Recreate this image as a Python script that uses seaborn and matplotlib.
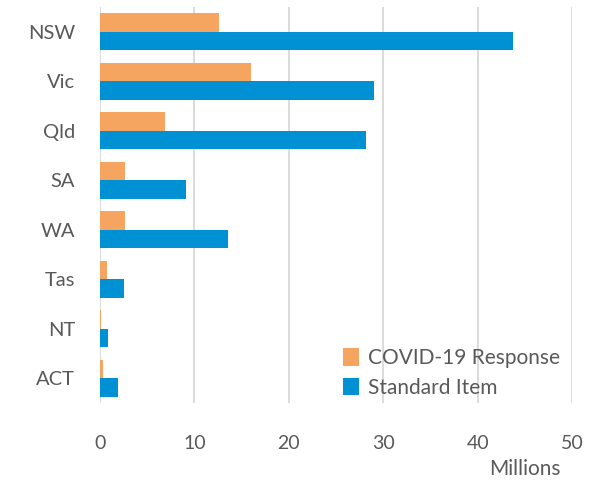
import pandas as pd
import matplotlib
matplotlib.use("Agg")
import matplotlib.pyplot as plt
import seaborn as sns

states = ["NSW", "Vic", "Qld", "SA", "WA", "Tas", "NT", "ACT"]
covid = [12.6, 16.0, 6.9, 2.6, 2.6, 0.7, 0.1, 0.35]
standard = [43.8, 29.0, 28.2, 9.1, 13.6, 2.5, 0.9, 1.95]
series = ["COVID-19 Response", "Standard Item"]

df = pd.DataFrame({
    "state": states * 2,
    "value": covid + standard,
    "series": [series[0]] * len(states) + [series[1]] * len(states),
})

sns.set_theme(style="white")
plt.rcParams["font.family"] = ["Lato", "DejaVu Sans"]
grey = "#595959"

fig = plt.figure(figsize=(6, 4.82), dpi=100)
ax = fig.add_axes([100 / 600, 1 - 403 / 482, 472 / 600, 396 / 482])

sns.barplot(data=df, y="state", x="value", hue="series", hue_order=series,
            order=states, palette=["#F5A55F", "#0091D5"], width=0.75,
            orient="h", ax=ax, saturation=1, linewidth=0, legend=True)

ax.set_xlim(0, 50)
ax.set_xticks(range(0, 51, 10))
ax.grid(axis="x", color="#D9D9D9", linewidth=1.3)
ax.set_axisbelow(True)
for s in ax.spines.values():
    s.set_visible(False)
ax.set_xlabel("")
ax.set_ylabel("")
ax.tick_params(axis="x", labelsize=14, colors=grey, pad=23, length=0)
ax.tick_params(axis="y", labelsize=14.5, colors=grey, pad=18, length=0)

leg = ax.legend(loc="center", bbox_to_anchor=(452 / 600, 1 - 373 / 482),
                bbox_transform=fig.transFigure, frameon=False, fontsize=15,
                handlelength=0.75, handleheight=0.9, handletextpad=0.45,
                labelspacing=0.45)
for t in leg.get_texts():
    t.set_color(grey)

fig.text(525 / 600, 1 - 469 / 482, "Millions", ha="center", va="center",
         fontsize=15, color=grey)

fig.savefig("out.png", dpi=100)
